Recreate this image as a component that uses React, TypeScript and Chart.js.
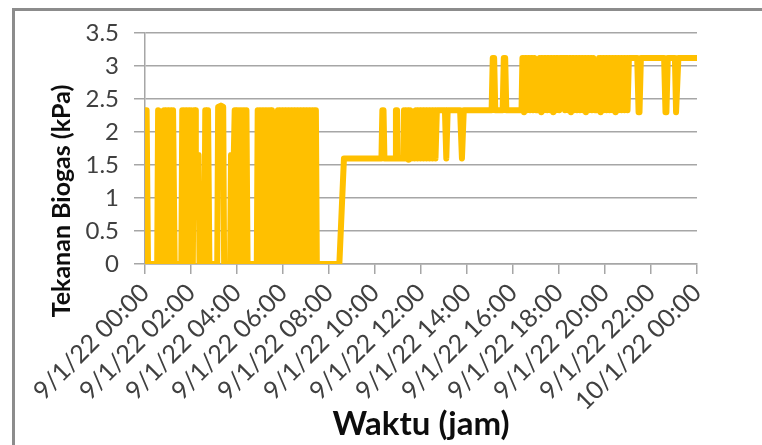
import React, { useEffect, useRef } from "react";
import { Chart, registerables } from "chart.js";

Chart.register(...registerables);

// readings as [hours after 9/1/22 00:00, pressure kPa]
// 00:00 - 08:40 : gas bag filling and emptying (0 / 2.33 kPa)
const morningReadings: [number, number][] = [
  [0.00, 2.33], [0.07, 2.33], [0.13, 0], [0.53, 0], [0.57, 2.33], [0.64, 0],
  [0.70, 2.31], [0.77, 0], [0.83, 2.33], [0.90, 0], [0.96, 2.33], [1.03, 0],
  [1.09, 2.33], [1.16, 0], [1.22, 2.33], [1.29, 0], [1.58, 0], [1.62, 2.33],
  [1.69, 0], [1.75, 2.33], [1.82, 0], [1.88, 2.33], [1.95, 0], [2.01, 2.33],
  [2.08, 0], [2.12, 2.33], [2.18, 2.33], [2.21, 1.65], [2.33, 1.65], [2.37, 0],
  [2.58, 0], [2.62, 2.33], [2.68, 0], [2.74, 2.33], [2.80, 0], [3.14, 0],
  [3.18, 2.38], [3.30, 2.40], [3.40, 2.38], [3.44, 0], [3.70, 0], [3.74, 1.65],
  [3.86, 1.65], [3.90, 2.33], [3.96, 0], [4.02, 2.33], [4.09, 0], [4.15, 2.33],
  [4.22, 0], [4.28, 2.33], [4.35, 0], [4.41, 2.33], [4.46, 0], [4.86, 0],
  [4.90, 2.33], [4.97, 0], [5.03, 2.33], [5.10, 0], [5.16, 2.33], [5.23, 0],
  [5.29, 2.33], [5.36, 0], [5.42, 2.33], [5.48, 2.33], [5.52, 0], [5.74, 0],
  [5.78, 2.33], [5.85, 0], [5.91, 2.33], [5.98, 0], [6.04, 2.33], [6.11, 0],
  [6.17, 2.33], [6.24, 0], [6.30, 2.33], [6.37, 0], [6.43, 2.33], [6.50, 0],
  [6.56, 2.33], [6.63, 0], [6.69, 2.33], [6.76, 0], [6.82, 2.33], [6.89, 0],
  [6.95, 2.33], [7.02, 0], [7.08, 2.33], [7.15, 0], [7.21, 2.33], [7.28, 0],
  [7.34, 2.33], [7.43, 2.33], [7.47, 0], [8.45, 0], [8.65, 1.6],
];

// 08:40 - 15:00 : 1.6 / 2.33 kPa
const middayReadings: [number, number][] = [
  [10.28, 1.6], [10.32, 2.33], [10.37, 2.33], [10.41, 1.6], [10.87, 1.6],
  [10.91, 2.33], [10.96, 2.33], [11.00, 1.6], [11.22, 1.6], [11.26, 2.33],
  [11.33, 1.6], [11.39, 2.33], [11.46, 1.58], [11.52, 2.33], [11.59, 1.6],
  [11.65, 2.31], [11.72, 1.6], [11.78, 2.33], [11.85, 1.6], [11.91, 2.33],
  [11.98, 1.6], [12.04, 2.33], [12.11, 1.6], [12.17, 2.33], [12.24, 1.6],
  [12.30, 2.33], [12.37, 1.6], [12.43, 2.33], [12.50, 1.6], [12.56, 2.33],
  [12.63, 1.6], [12.69, 2.33], [13.04, 2.33], [13.10, 1.6], [13.16, 2.33],
  [13.70, 2.33], [13.78, 1.6], [13.86, 2.33],
];

// 15:00 - 24:00 : 2.33 / 3.12 kPa
const eveningReadings: [number, number][] = [
  [15.07, 2.33], [15.12, 3.12], [15.18, 3.12], [15.23, 2.33], [15.55, 2.33],
  [15.60, 3.12], [15.66, 3.12], [15.71, 2.33], [16.37, 2.33], [16.41, 3.12],
  [16.48, 2.3], [16.54, 3.12], [16.61, 2.33], [16.67, 3.12], [16.74, 2.33],
  [16.80, 3.12], [16.87, 2.33], [16.93, 3.12], [17.00, 2.33], [17.10, 2.33],
  [17.16, 3.12], [17.23, 2.3], [17.29, 3.12], [17.36, 2.33], [17.42, 3.12],
  [17.49, 2.33], [17.55, 3.12], [17.62, 2.33], [17.68, 3.12], [17.75, 2.3],
  [17.81, 3.12], [17.88, 2.33], [17.94, 3.12], [18.01, 2.33], [18.07, 3.12],
  [18.20, 3.12], [18.26, 2.33], [18.32, 3.12], [18.39, 2.33], [18.45, 3.12],
  [18.52, 2.3], [18.58, 3.12], [18.65, 2.33], [18.71, 3.12], [18.78, 2.33],
  [18.84, 3.12], [18.91, 2.33], [18.97, 3.12], [19.04, 2.33], [19.10, 3.12],
  [19.17, 2.3], [19.23, 3.12], [19.30, 2.33], [19.36, 3.12], [19.43, 2.33],
  [19.49, 3.12], [19.56, 2.33], [19.68, 2.33], [19.74, 3.12], [19.81, 2.3],
  [19.87, 3.12], [19.94, 2.33], [20.00, 3.12], [20.07, 2.33], [20.13, 3.12],
  [20.20, 2.33], [20.26, 3.12], [20.33, 2.33], [20.39, 3.12], [20.46, 2.3],
  [20.52, 3.12], [20.59, 2.33], [20.65, 3.12], [20.72, 2.33], [20.78, 3.12],
  [20.85, 2.33], [20.91, 3.12], [20.98, 2.33], [21.04, 3.12], [21.40, 3.12],
  [21.46, 2.3], [21.50, 2.3], [21.56, 3.12], [22.57, 3.12], [22.63, 2.3],
  [22.67, 2.3], [22.73, 3.12], [23.04, 3.12], [23.09, 2.3], [23.13, 2.3],
  [23.19, 3.12], [24.00, 3.12],
];

const xTickLabels: string[] = [
  "9/1/22 00:00", "9/1/22 02:00", "9/1/22 04:00", "9/1/22 06:00",
  "9/1/22 08:00", "9/1/22 10:00", "9/1/22 12:00", "9/1/22 14:00",
  "9/1/22 16:00", "9/1/22 18:00", "9/1/22 20:00", "9/1/22 22:00",
  "10/1/22 00:00",
];
const yTickLabels: string[] = ["0", "0.5", "1", "1.5", "2", "2.5", "3", "3.5"];

const xTitle = "Waktu (jam)";
const yTitle = "Tekanan Biogas (kPa)";

const FONT = "Lato, 'Open Sans', sans-serif";

export default function App() {
  const ref = useRef<HTMLCanvasElement | null>(null);

  useEffect(() => {
    if (!ref.current) return;
    const readings = [...morningReadings, ...middayReadings, ...eveningReadings];
    const titles = {
      id: "titlesAndFrame",
      beforeDraw(chart: any) {
        const c = chart.ctx;
        c.save();
        c.fillStyle = "#ffffff";
        c.fillRect(0, 0, chart.width, chart.height);
        c.restore();
      },
      afterDraw(chart: any) {
        const c = chart.ctx;
        const a = chart.chartArea;
        c.save();
        c.strokeStyle = "#8c8c8c";
        c.lineWidth = 3;
        c.strokeRect(13.5, 9.5, 900, 600);
        c.fillStyle = "#0d0d0d";
        c.textAlign = "center";
        c.textBaseline = "middle";
        c.font = `bold 33px ${FONT}`;
        c.fillText(xTitle, (a.left + a.right) / 2, 424);
        c.translate(62, 201);
        c.rotate(-Math.PI / 2);
        c.font = `bold 25px ${FONT}`;
        c.fillText(yTitle, 0, 0);
        c.restore();
      },
    };

    const chart = new Chart(ref.current, {
      type: "line",
      data: {
        datasets: [
          {
            data: readings.map(([t, v]) => ({ x: t, y: v })),
            borderColor: "#FFC000",
            backgroundColor: "#FFC000",
            borderWidth: 6,
            pointRadius: 0,
            tension: 0,
            borderJoinStyle: "round",
            borderCapStyle: "round",
          },
        ],
      },
      options: {
        responsive: false,
        animation: false,
        devicePixelRatio: 1,
        layout: { padding: { left: 0, right: 65, top: 33, bottom: 0 } },
        plugins: { legend: { display: false }, tooltip: { enabled: false } },
        scales: {
          x: {
            type: "linear",
            min: 0,
            max: 24,
            afterFit: (s: any) => {
              s.height = 445 - 264;
            },
            ticks: {
              stepSize: 2,
              autoSkip: false,
              minRotation: 45,
              maxRotation: 45,
              padding: 4,
              color: "#404040",
              font: { family: FONT, size: 25 },
              callback: (_v: any, i: number) => xTickLabels[i],
            },
            grid: {
              drawOnChartArea: false,
              drawTicks: true,
              tickLength: 10,
              color: "#a6a6a6",
              lineWidth: 1.5,
            },
            border: { display: true, color: "#a6a6a6", width: 1.5 },
          },
          y: {
            min: 0,
            max: 3.5,
            afterFit: (s: any) => {
              s.width = 145;
            },
            ticks: {
              stepSize: 0.5,
              padding: 15,
              color: "#404040",
              font: { family: FONT, size: 24 },
              callback: (_v: any, i: number) => yTickLabels[i],
            },
            grid: {
              color: "#a6a6a6",
              lineWidth: 1.5,
              tickLength: 11,
            },
            border: { display: true, color: "#a6a6a6", width: 1.5 },
          },
        },
      },
      plugins: [titles],
    } as any);
    return () => chart.destroy();
  }, []);

  return (
    <div style={{ position: "fixed", left: 0, top: 0, width: 762, height: 445, background: "#fff" }}>
      <canvas ref={ref} width={762} height={445} style={{ display: "block" }} />
    </div>
  );
}
